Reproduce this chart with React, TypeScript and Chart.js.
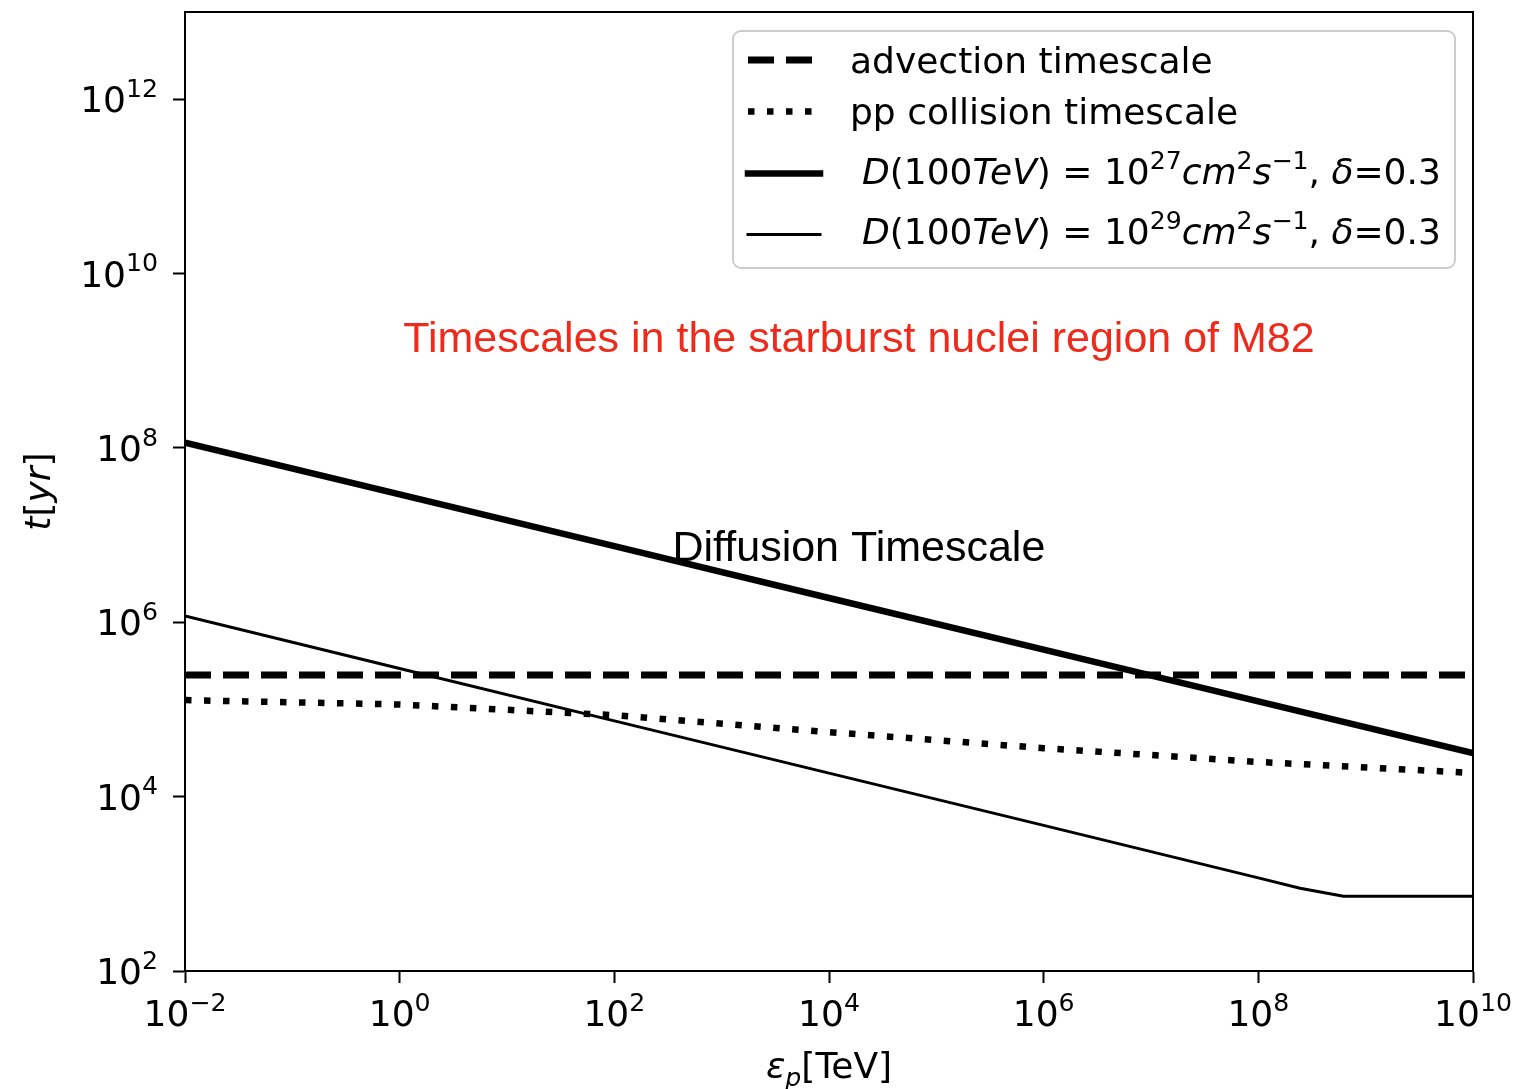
import React, { useEffect, useRef } from 'react';
import { Chart, registerables } from 'chart.js';

Chart.register(...registerables);

// ---------- data ----------
const ENERGY_TEV = [1e-2, 1e0, 1e2, 1e4, 1e6, 1e8, 1e10];
const ADVECTION_YR = [2.48e5, 2.48e5, 2.48e5, 2.48e5, 2.48e5, 2.48e5, 2.48e5];
const PP_YR = [1.28e5, 1.14e5, 8.6e4, 5.5e4, 3.6e4, 2.5e4, 1.87e4];
const D27_YR = [1.15e8, 2.93e7, 7.47e6, 1.9e6, 4.86e5, 1.24e5, 3.16e4];
const D29_ENERGY_TEV = [1e-2, 1e0, 1e2, 1e4, 1e6, 1e8, 2.45e8, 6.2e8, 1e10];
const D29_YR = [1.18e6, 2.95e5, 7.4e4, 1.86e4, 4.68e3, 1.17e3, 8.9e2, 7.2e2, 7.2e2];

const X_TICKS = [1e-2, 1e0, 1e2, 1e4, 1e6, 1e8, 1e10];
const X_TICK_EXP = ['\u22122', '0', '2', '4', '6', '8', '10'];
const Y_TICKS = [1e2, 1e4, 1e6, 1e8, 1e10, 1e12];
const Y_TICK_EXP = ['2', '4', '6', '8', '10', '12'];
const X_RANGE = [1e-2, 1e10];
const Y_RANGE = [1e2, 1e13];

const TITLE_TEXT = 'Timescales in the starburst nuclei region of M82';
const TITLE_POS = [1.9e4, 1.26e9];
const DIFFUSION_TEXT = 'Diffusion Timescale';
const DIFFUSION_POS = [1.9e4, 5.0e6];

type Seg = { t: string; it?: boolean; sup?: boolean; sub?: boolean };

const LEGEND_LABELS: Seg[][] = [
  [{ t: 'advection timescale' }],
  [{ t: 'pp collision timescale' }],
  [
    { t: 'D', it: true }, { t: '(100' }, { t: 'TeV', it: true }, { t: ') = 10' }, { t: '27', sup: true },
    { t: 'cm', it: true }, { t: '2', sup: true }, { t: 's', it: true }, { t: '\u22121', sup: true },
    { t: ', ' }, { t: '\u03B4', it: true }, { t: '=0.3' },
  ],
  [
    { t: 'D', it: true }, { t: '(100' }, { t: 'TeV', it: true }, { t: ') = 10' }, { t: '29', sup: true },
    { t: 'cm', it: true }, { t: '2', sup: true }, { t: 's', it: true }, { t: '\u22121', sup: true },
    { t: ', ' }, { t: '\u03B4', it: true }, { t: '=0.3' },
  ],
];

const FONT = '"DejaVu Sans", sans-serif';

function segFont(s: Seg, size: number) {
  const sz = s.sup || s.sub ? size * 0.7 : size;
  return `${s.it ? 'italic ' : ''}${sz}px ${FONT}`;
}
function measureRich(ctx: CanvasRenderingContext2D, segs: Seg[], size: number) {
  let w = 0;
  for (const s of segs) {
    ctx.font = segFont(s, size);
    w += ctx.measureText(s.t).width;
  }
  return w;
}
function drawRich(
  ctx: CanvasRenderingContext2D, segs: Seg[], x: number, y: number, size: number,
  align: 'left' | 'center' | 'right'
) {
  const w = measureRich(ctx, segs, size);
  let cx = align === 'left' ? x : align === 'center' ? x - w / 2 : x - w;
  ctx.textAlign = 'left';
  ctx.textBaseline = 'alphabetic';
  for (const s of segs) {
    ctx.font = segFont(s, size);
    const dy = s.sup ? -size * 0.42 : s.sub ? size * 0.22 : 0;
    ctx.fillText(s.t, cx, y + dy);
    cx += ctx.measureText(s.t).width;
  }
}

const overlayPlugin = {
  id: 'overlay',
  afterDraw(chart: any) {
    const ctx: CanvasRenderingContext2D = chart.ctx;
    const { left, right, top, bottom } = chart.chartArea;
    const xs = chart.scales.x;
    const ys = chart.scales.y;
    ctx.save();
    // frame (top + right spines)
    ctx.strokeStyle = '#000';
    ctx.lineWidth = 2;
    ctx.strokeRect(left, top, right - left, bottom - top);

    // annotations
    ctx.fillStyle = '#ee2a1b';
    ctx.font = `43px "Liberation Sans", Arial, sans-serif`;
    ctx.textAlign = 'center';
    ctx.textBaseline = 'alphabetic';
    ctx.fillText(TITLE_TEXT, xs.getPixelForValue(TITLE_POS[0]), ys.getPixelForValue(TITLE_POS[1]));
    ctx.fillStyle = '#000';
    ctx.fillText(DIFFUSION_TEXT, xs.getPixelForValue(DIFFUSION_POS[0]), ys.getPixelForValue(DIFFUSION_POS[1]));

    // tick labels
    const tickSize = 36;
    ctx.fillStyle = '#000';
    Y_TICKS.forEach((v, i) => {
      const py = ys.getPixelForValue(v);
      drawRich(ctx, [{ t: '10' }, { t: Y_TICK_EXP[i], sup: true }], left - 27, py + tickSize * 0.36, tickSize, 'right');
    });
    X_TICKS.forEach((v, i) => {
      const px = xs.getPixelForValue(v);
      drawRich(ctx, [{ t: '10' }, { t: X_TICK_EXP[i], sup: true }], px, bottom + 55, tickSize, 'center');
    });

    // axis titles
    drawRich(ctx, [{ t: '\u03B5', it: true }, { t: 'p', it: true, sub: true }, { t: '[TeV]' }],
      (left + right) / 2, 1078, tickSize, 'center');
    ctx.save();
    ctx.translate(50, (top + bottom) / 2);
    ctx.rotate(-Math.PI / 2);
    drawRich(ctx, [{ t: 't', it: true }, { t: '[' }, { t: 'yr', it: true }, { t: ']' }], 0, 0, tickSize, 'center');
    ctx.restore();

    // legend
    const bx = 733, by = 31, bw = 722, bh = 237;
    ctx.beginPath();
    ctx.roundRect(bx, by, bw, bh, 8);
    ctx.fillStyle = 'rgba(255,255,255,0.8)';
    ctx.fill();
    ctx.strokeStyle = '#cccccc';
    ctx.lineWidth = 2;
    ctx.stroke();
    const legendSize = 36;
    const rowLine = [60, 111.5, 173.5, 234.5];
    const rowBase = [73, 124, 184, 244];
    const textX = [850, 850, 862, 862];
    chart.data.datasets.forEach((ds: any, i: number) => {
      ctx.save();
      ctx.strokeStyle = '#000';
      ctx.lineWidth = ds.borderWidth;
      const dash = ds.borderDash || [];
      ctx.setLineDash(dash);
      ctx.lineCap = dash.length ? 'butt' : 'square';
      ctx.beginPath();
      ctx.moveTo(748, rowLine[i]);
      ctx.lineTo(820, rowLine[i]);
      ctx.stroke();
      ctx.restore();
      ctx.fillStyle = '#000';
      drawRich(ctx, LEGEND_LABELS[i], textX[i], rowBase[i], legendSize, 'left');
    });
    ctx.restore();
  },
};

export default function App() {
  const ref = useRef<HTMLCanvasElement | null>(null);
  useEffect(() => {
    const canvas = ref.current;
    if (!canvas) return;
    const toPts = (xs: number[], ys: number[]) => xs.map((x, i) => ({ x, y: ys[i] }));
    const chart = new Chart(canvas, {
      type: 'line',
      data: {
        datasets: [
          {
            label: 'advection timescale',
            data: toPts(ENERGY_TEV, ADVECTION_YR),
            borderColor: '#000', borderWidth: 7, borderDash: [26, 12], pointRadius: 0,
          },
          {
            label: 'pp collision timescale',
            data: toPts(ENERGY_TEV, PP_YR),
            borderColor: '#000', borderWidth: 6.5, borderDash: [6.5, 12.5], pointRadius: 0,
          },
          {
            label: 'D27',
            data: toPts(ENERGY_TEV, D27_YR),
            borderColor: '#000', borderWidth: 6.5, pointRadius: 0,
          },
          {
            label: 'D29',
            data: toPts(D29_ENERGY_TEV, D29_YR),
            borderColor: '#000', borderWidth: 3, pointRadius: 0,
          },
        ] as any,
      },
      options: {
        animation: false,
        responsive: false,
        devicePixelRatio: 1,
        layout: { padding: { top: 12, right: 54, left: 0, bottom: 0 } },
        plugins: { legend: { display: false }, tooltip: { enabled: false }, title: { display: false } },
        elements: { line: { tension: 0 } },
        scales: {
          x: {
            type: 'logarithmic',
            min: X_RANGE[0], max: X_RANGE[1],
            afterBuildTicks: (s: any) => { s.ticks = X_TICKS.map((value) => ({ value })); },
            afterFit: (s: any) => { s.height = 118; },
            ticks: { display: false },
            grid: { drawOnChartArea: false, drawTicks: true, tickLength: 12, tickWidth: 2, tickColor: '#000', color: '#000' },
            border: { display: true, color: '#000', width: 2 },
          },
          y: {
            type: 'logarithmic',
            min: Y_RANGE[0], max: Y_RANGE[1],
            afterBuildTicks: (s: any) => { s.ticks = Y_TICKS.map((value) => ({ value })); },
            afterFit: (s: any) => { s.width = 185; },
            ticks: { display: false },
            grid: { drawOnChartArea: false, drawTicks: true, tickLength: 12, tickWidth: 2, tickColor: '#000', color: '#000' },
            border: { display: true, color: '#000', width: 2 },
          },
        } as any,
      },
      plugins: [overlayPlugin],
    });
    return () => chart.destroy();
  }, []);
  return (
    <div style={{ position: 'fixed', left: 0, top: 0, width: 1527, height: 1089, background: '#fff' }}>
      <canvas ref={ref} width={1527} height={1089} style={{ display: 'block', width: 1527, height: 1089 }} />
    </div>
  );
}
